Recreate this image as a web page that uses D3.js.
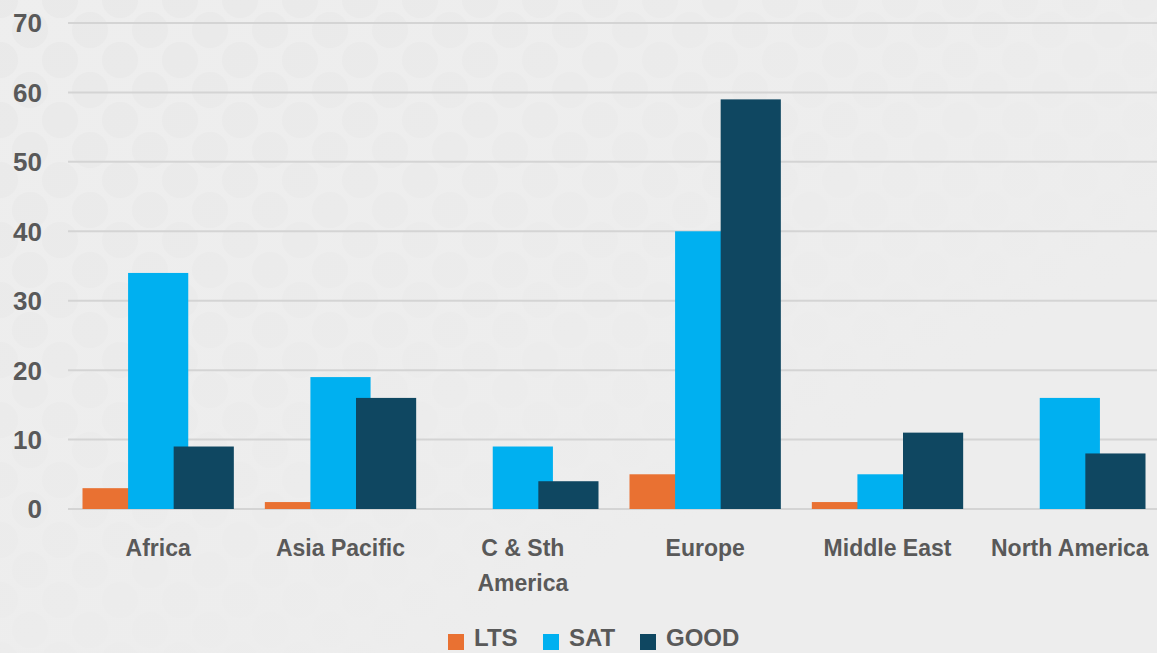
<!DOCTYPE html>
<html>
<head>
<meta charset="utf-8">
<script src="https://cdn.jsdelivr.net/npm/d3@7"></script>
<style>
  body { margin: 0; background: #ededed; overflow: hidden; }
  svg { display: block; }
</style>
</head>
<body>
<svg></svg>
<script>
var regions = ["Africa", "Asia Pacific", "C & Sth America", "Europe", "Middle East", "North America"];
var regionLines = [["Africa"], ["Asia Pacific"], ["C & Sth", "America"], ["Europe"], ["Middle East"], ["North America"]];
var series = ["LTS", "SAT", "GOOD"];
var lts = [3, 1, 0, 5, 1, 0];
var sat = [34, 19, 9, 40, 5, 16];
var good = [9, 16, 4, 59, 11, 8];
var yTicks = [0, 10, 20, 30, 40, 50, 60, 70];
var colors = ["#E97132", "#00B0F0", "#0F4761"];

var width = 1157, height = 653;
var svg = d3.select("svg").attr("width", width).attr("height", height);

// faint dotted background
var defs = svg.append("defs");
var pat = defs.append("pattern")
  .attr("id", "dots")
  .attr("patternUnits", "userSpaceOnUse")
  .attr("width", 60).attr("height", 60);
pat.append("rect").attr("width", 60).attr("height", 60).attr("fill", "#eeeeee");
[[0, 0], [60, 0], [0, 60], [60, 60], [30, 30]].forEach(function(p) {
  pat.append("circle").attr("cx", p[0]).attr("cy", p[1]).attr("r", 18).attr("fill", "#e9e9e9");
});
var fade = defs.append("linearGradient").attr("id", "fade")
  .attr("x1", 0).attr("y1", 0).attr("x2", 1).attr("y2", 1);
fade.append("stop").attr("offset", "0%").attr("stop-color", "#ededed").attr("stop-opacity", 0.1);
fade.append("stop").attr("offset", "70%").attr("stop-color", "#ededed").attr("stop-opacity", 1);
svg.append("rect").attr("width", width).attr("height", height).attr("fill", "url(#dots)");
svg.append("rect").attr("width", width).attr("height", height).attr("fill", "url(#fade)");

var x = d3.scaleBand().domain(regions).range([67, 1161]).padding(0);
var y = d3.scaleLinear().domain([0, 70]).range([509, 23]);

// gridlines
svg.append("g")
  .selectAll("line")
  .data(yTicks)
  .enter().append("line")
  .attr("x1", 68).attr("x2", width)
  .attr("y1", function(d) { return y(d); })
  .attr("y2", function(d) { return y(d); })
  .attr("stroke", "#d4d4d4")
  .attr("stroke-width", 2);

// y labels
svg.append("g")
  .selectAll("text")
  .data(yTicks)
  .enter().append("text")
  .attr("x", 42)
  .attr("y", function(d) { return y(d); })
  .attr("dy", "0.36em")
  .attr("text-anchor", "end")
  .attr("font-family", "'Liberation Sans', Arial, sans-serif")
  .attr("font-weight", "bold")
  .attr("font-size", 26)
  .attr("fill", "#595959")
  .text(function(d) { return d; });

// bars: width 1/3 of band, stepped by 1/4 band so they overlap
var values = [lts, sat, good];
var bw = x.bandwidth() * 0.33;
var step = x.bandwidth() * 0.25;
var groupStart = (x.bandwidth() - (2 * step + bw)) / 2;

series.forEach(function(s, si) {
  svg.append("g")
    .selectAll("rect")
    .data(regions)
    .enter().append("rect")
    .attr("x", function(d) { return x(d) + groupStart + si * step; })
    .attr("y", function(d, i) { return y(values[si][i]); })
    .attr("width", bw)
    .attr("height", function(d, i) { return y(0) - y(values[si][i]); })
    .attr("fill", colors[si]);
});

// category labels
var xl = svg.append("g")
  .selectAll("text")
  .data(regions)
  .enter().append("text")
  .attr("x", function(d) { return x(d) + x.bandwidth() / 2; })
  .attr("y", 556)
  .attr("text-anchor", "middle")
  .attr("font-family", "'Liberation Sans', Arial, sans-serif")
  .attr("font-weight", "bold")
  .attr("font-size", 23)
  .attr("fill", "#595959");
xl.each(function(d, i) {
  var t = d3.select(this);
  regionLines[i].forEach(function(line, li) {
    t.append("tspan")
      .attr("x", x(d) + x.bandwidth() / 2)
      .attr("dy", li === 0 ? 0 : 35)
      .text(line);
  });
});

// legend
var legendX = [448, 543, 640];
var legend = svg.append("g")
  .selectAll("g")
  .data(series)
  .enter().append("g")
  .attr("transform", function(d, i) { return "translate(" + legendX[i] + ",0)"; });
legend.append("rect")
  .attr("x", 0).attr("y", 634)
  .attr("width", 16).attr("height", 16)
  .attr("fill", function(d, i) { return colors[i]; });
legend.append("text")
  .attr("x", 26).attr("y", 646)
  .attr("font-family", "'Liberation Sans', Arial, sans-serif")
  .attr("font-weight", "bold")
  .attr("font-size", 24)
  .attr("fill", "#595959")
  .text(function(d) { return d; });
</script>
</body>
</html>
